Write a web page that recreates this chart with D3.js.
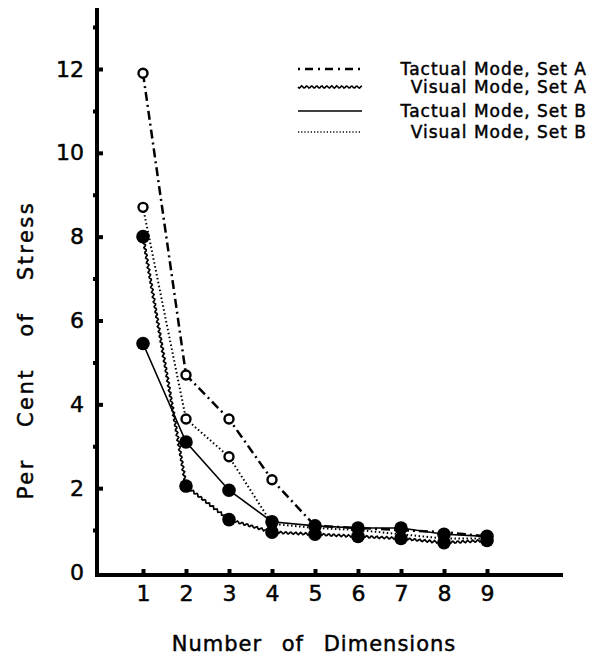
<!DOCTYPE html>
<html lang="en">
<head>
<meta charset="UTF-8">
<title>Stress by dimensions</title>
<script src="https://d3js.org/d3.v7.min.js"></script>
<style>
    body { margin: 0; background: #fff; }
    text { font-family: "DejaVu Sans", sans-serif; fill: #000; stroke: #000; stroke-width: 0.45px; }
    .tick line { stroke: #000; stroke-width: 4; }
    .tick text { font-size: 22px; }
</style>
</head>
<body>
<script>
// data
var dims = [1, 2, 3, 4, 5, 6, 7, 8, 9];
var yTicks = [0, 2, 4, 6, 8, 10, 12];
var yMinor = [1, 3, 5, 7, 9, 11, 13];
var tactualA = [11.9, 4.7, 3.65, 2.2, 1.1, 1.05, 1.0, 0.95, 0.85];
var visualA = [8.0, 2.05, 1.25, 0.95, 0.9, 0.85, 0.8, 0.7, 0.75];
var tactualB = [5.45, 3.1, 1.95, 1.2, 1.1, 1.05, 1.05, 0.9, 0.85];
var visualB = [8.7, 3.65, 2.75, 1.15, 1.05, 1.0, 0.9, 0.8, 0.8];
var legendLabels = ["Tactual Mode, Set A", "Visual Mode, Set A", "Tactual Mode, Set B", "Visual Mode, Set B"];

var width = 592, height = 659;
var svg = d3.select("body").append("svg")
    .attr("width", width)
    .attr("height", height);

var x = d3.scaleLinear().domain([1, 9]).range([143, 487]);
var y = d3.scaleLinear().domain([0, 12]).range([572, 69]);

// axes
var yAxis = d3.axisLeft(y).tickValues(yTicks).tickSize(-6).tickPadding(13);
var gy = svg.append("g").attr("transform", "translate(97,0)").call(yAxis);
gy.select(".domain").remove();
gy.selectAll(".tick").filter(function (d) { return d === 0; }).select("line").remove();

// tiny marks on the outer side of the y axis
var gm = svg.append("g").attr("transform", "translate(95,0)")
    .call(d3.axisLeft(y).tickValues(yMinor).tickSize(2).tickFormat(""));
gm.select(".domain").remove();
gm.selectAll(".tick line").attr("stroke-width", 1.2);

var xAxis = d3.axisBottom(x).tickValues(dims).tickSize(-6).tickPadding(10);
var gx = svg.append("g").attr("transform", "translate(0,575)").call(xAxis);
gx.select(".domain").remove();
gx.selectAll(".tick line").attr("stroke-width", 3);

svg.append("line").attr("x1", 97).attr("y1", 8).attr("x2", 97).attr("y2", 577)
    .attr("stroke", "#000").attr("stroke-width", 4);
svg.append("line").attr("x1", 95).attr("y1", 575).attr("x2", 563).attr("y2", 575)
    .attr("stroke", "#000").attr("stroke-width", 4);

svg.append("text").attr("x", 314).attr("y", 651).attr("text-anchor", "middle")
    .style("font-size", "21px").style("letter-spacing", "1px").style("word-spacing", "12px")
    .text("Number of Dimensions");
svg.append("text").attr("transform", "translate(33,350) rotate(-90)")
    .attr("text-anchor", "middle")
    .style("font-size", "21px").style("word-spacing", "22px").style("letter-spacing", "2.5px")
    .text("Per Cent of Stress");

// wavy path through points (for the "visual mode, set A" line style)
function wavy(pts, amp, wl) {
    var out = [];
    for (var i = 0; i < pts.length - 1; i++) {
        var p = pts[i], q = pts[i + 1];
        var dx = q[0] - p[0], dy = q[1] - p[1];
        var len = Math.sqrt(dx * dx + dy * dy);
        var nx = -dy / len, ny = dx / len;
        var n = Math.max(2, Math.round(len / 1.2));
        for (var j = 0; j <= n; j++) {
            var t = j / n, s = Math.sin(t * len / wl * 2 * Math.PI) * amp;
            out.push([p[0] + dx * t + nx * s, p[1] + dy * t + ny * s]);
        }
    }
    return d3.line()(out);
}

var line = d3.line().x(function (d, i) { return x(dims[i]); }).y(function (d) { return y(d); });
function pts(vals) { return vals.map(function (v, i) { return [x(dims[i]), y(v)]; }); }

svg.append("path").attr("d", line(tactualB)).attr("fill", "none")
    .attr("stroke", "#000").attr("stroke-width", 1.6);
svg.append("path").attr("d", line(visualB)).attr("fill", "none")
    .attr("stroke", "#000").attr("stroke-width", 2).attr("stroke-dasharray", "1.5,2.5");
svg.append("path").attr("d", wavy(pts(visualA), 1.1, 5)).attr("fill", "none")
    .attr("stroke", "#000").attr("stroke-width", 1.7);
svg.append("path").attr("d", line(tactualA)).attr("fill", "none")
    .attr("stroke", "#000").attr("stroke-width", 2.5).attr("stroke-dasharray", "9,4,2,4");

function filled(vals) {
    svg.append("g").selectAll("circle").data(vals).enter().append("circle")
        .attr("cx", function (d, i) { return x(dims[i]); })
        .attr("cy", function (d) { return y(d); })
        .attr("r", 6.8).attr("fill", "#000");
}
function open(vals) {
    svg.append("g").selectAll("circle").data(vals).enter().append("circle")
        .attr("cx", function (d, i) { return x(dims[i]); })
        .attr("cy", function (d) { return y(d); })
        .attr("r", 4.5).attr("fill", "#fff").attr("stroke", "#000").attr("stroke-width", 2.4);
}
open(tactualA.slice(0, 4));
open(visualB.slice(0, 4));
filled(visualA);
filled(tactualB);

// legend
var legY = [69, 87, 111, 132];
var lg = svg.append("g");
lg.append("path").attr("d", d3.line()([[298, legY[0]], [362, legY[0]]]))
    .attr("stroke", "#000").attr("stroke-width", 2.5).attr("stroke-dasharray", "2,5,8,5");
lg.append("path").attr("d", wavy([[298, legY[1]], [362, legY[1]]], 1.1, 5)).attr("fill", "none")
    .attr("stroke", "#000").attr("stroke-width", 1.6);
lg.append("path").attr("d", d3.line()([[298, legY[2]], [362, legY[2]]]))
    .attr("stroke", "#000").attr("stroke-width", 1.6);
lg.append("path").attr("d", d3.line()([[298, legY[3]], [362, legY[3]]]))
    .attr("stroke", "#000").attr("stroke-width", 1.4).attr("stroke-dasharray", "1.2,2");
lg.selectAll("text").data(legendLabels).enter().append("text")
    .attr("x", 587).attr("y", function (d, i) { return legY[i] + 6; })
    .attr("text-anchor", "end")
    .style("font-size", "17px").style("letter-spacing", "1px")
    .text(function (d) { return d; });
</script>
</body>
</html>
